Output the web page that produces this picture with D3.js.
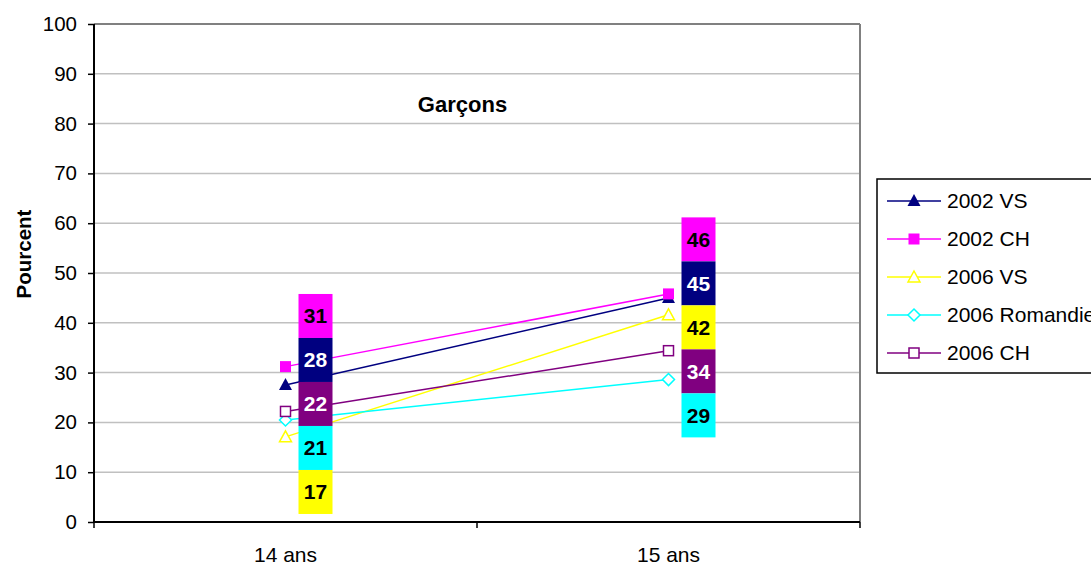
<!DOCTYPE html>
<html><head><meta charset="utf-8">
<script src="https://cdn.jsdelivr.net/npm/d3@7/dist/d3.min.js"></script>
<style>html,body{margin:0;padding:0;background:#fff;overflow:hidden}text{font-family:"Liberation Sans",Arial,sans-serif}</style>
</head><body><svg id="c" width="1091" height="565"></svg>
<script>
const categories = ["14 ans", "15 ans"];
const seriesNames = ["2002 VS", "2002 CH", "2006 VS", "2006 Romandie", "2006 CH"];
const v2002VS = [27.5, 45];
const v2002CH = [31.2, 45.8];
const v2006VS = [17.1, 41.6];
const v2006Rom = [20.5, 28.6];
const v2006CH = [22.2, 34.4];
const yTicks = [0, 10, 20, 30, 40, 50, 60, 70, 80, 90, 100];
const title = "Garçons";
const yTitle = "Pourcent";

const colors = ["#000080", "#FF00FF", "#FFFF00", "#00FFFF", "#800080"];
const markers = ["triFill", "sqFill", "triOpen", "diaOpen", "sqOpen"];
const labelText = ["#fff", "#000", "#000", "#000", "#fff"];
const values = [v2002VS, v2002CH, v2006VS, v2006Rom, v2006CH];

const svg = d3.select("#c");
const L = 94, R = 860, T = 24, B = 522;
const x = d3.scaleBand().domain(categories).range([L, R]);
const y = d3.scaleLinear().domain([0, 100]).range([B, T]);

// gridlines
svg.append("g").selectAll("line").data(yTicks.filter(t => t > 0)).join("line")
  .attr("x1", L).attr("x2", R).attr("y1", d => y(d)).attr("y2", d => y(d))
  .attr("stroke", d => d === 100 ? "#808080" : "#c0c0c0").attr("stroke-width", d => d === 100 ? 2 : 1.5);
svg.append("line").attr("x1", R).attr("x2", R).attr("y1", T).attr("y2", B).attr("stroke", "#808080").attr("stroke-width", 2);

// y axis
const ya = svg.append("g").attr("transform", `translate(${L},0)`)
  .call(d3.axisLeft(y).tickValues(yTicks).tickSize(6).tickPadding(11).tickFormat(d3.format("d")));
ya.select(".domain").attr("stroke", "#000").attr("stroke-width", 2).attr("d", `M0,${B}V${T}`);
ya.selectAll(".tick line").attr("stroke", "#000").attr("stroke-width", 1.5);
ya.selectAll(".tick text").attr("font-size", 20.5).attr("fill", "#000").attr("font-family", "Liberation Sans, Arial, sans-serif");

// x axis
const xa = svg.append("g").attr("transform", `translate(0,${B})`);
xa.append("line").attr("x1", L).attr("x2", R).attr("stroke", "#000").attr("stroke-width", 2);
const edges = [L, ...categories.map(c => x(c) + x.bandwidth())];
xa.selectAll("line.t").data(edges).join("line").attr("class", "t")
  .attr("x1", d => d).attr("x2", d => d).attr("y1", 0).attr("y2", 6).attr("stroke", "#000").attr("stroke-width", 1.5);
xa.selectAll("text").data(categories).join("text")
  .attr("x", d => x(d) + x.bandwidth() / 2).attr("y", 40).attr("text-anchor", "middle")
  .attr("font-size", 21).text(d => d);

// titles
svg.append("text").attr("x", 462.5).attr("y", 112).attr("text-anchor", "middle")
  .attr("font-size", 22).attr("font-weight", "bold").text(title);
svg.append("text").attr("transform", `translate(31,254) rotate(-90)`).attr("text-anchor", "middle")
  .attr("font-size", 20.5).attr("font-weight", "bold").text(yTitle);

function drawMarker(g, type, color, cx, cy) {
  if (type === "triFill") g.append("path").attr("d", `M${cx},${cy - 7}L${cx + 6.5},${cy + 5}L${cx - 6.5},${cy + 5}Z`).attr("fill", color);
  else if (type === "sqFill") g.append("rect").attr("x", cx - 5.5).attr("y", cy - 5.5).attr("width", 11).attr("height", 11).attr("fill", color);
  else if (type === "triOpen") g.append("path").attr("d", `M${cx},${cy - 6}L${cx + 6},${cy + 5}L${cx - 6},${cy + 5}Z`).attr("fill", "#fff").attr("stroke", color).attr("stroke-width", 1.5);
  else if (type === "diaOpen") g.append("path").attr("d", `M${cx},${cy - 6}L${cx + 6},${cy}L${cx},${cy + 6}L${cx - 6},${cy}Z`).attr("fill", "#fff").attr("stroke", color).attr("stroke-width", 1.5);
  else if (type === "sqOpen") g.append("rect").attr("x", cx - 5).attr("y", cy - 5).attr("width", 10).attr("height", 10).attr("fill", "#fff").attr("stroke", color).attr("stroke-width", 1.5);
}

const cx = c => x(c) + x.bandwidth() / 2;
const line = d3.line().x((d, i) => cx(categories[i])).y(d => y(d));
const lg = svg.append("g");
values.forEach((vals, s) => {
  lg.append("path").attr("d", line(vals)).attr("fill", "none").attr("stroke", colors[s]).attr("stroke-width", 1.5);
});
values.forEach((vals, s) => {
  vals.forEach((v, i) => drawMarker(lg, markers[s], colors[s], cx(categories[i]), y(v)));
});

// data labels: stacked column to the right of each category, sorted by value, centred on the mean
const boxH = 44, boxW = 34, offX = 30;
categories.forEach((c, i) => {
  const items = values.map((vals, s) => ({ s, v: vals[i] })).sort((a, b) => b.v - a.v);
  const top = y(d3.mean(items, d => d.v)) - boxH * items.length / 2;
  items.forEach((it, k) => {
    const bx = cx(c) + offX - boxW / 2, by = top + k * boxH;
    svg.append("rect").attr("x", bx).attr("y", by).attr("width", boxW).attr("height", boxH).attr("fill", colors[it.s]);
    svg.append("text").attr("x", bx + boxW / 2).attr("y", by + boxH / 2 + 7.5).attr("text-anchor", "middle")
      .attr("font-size", 21).attr("font-weight", "bold").attr("fill", labelText[it.s]).text(Math.round(it.v));
  });
});

// legend
const leg = svg.append("g").attr("transform", "translate(877,179)");
leg.append("rect").attr("width", 260).attr("height", 194).attr("fill", "#fff").attr("stroke", "#000").attr("stroke-width", 1.5);
seriesNames.forEach((n, s) => {
  const yy = 22 + s * 38;
  leg.append("line").attr("x1", 10).attr("x2", 64).attr("y1", yy).attr("y2", yy).attr("stroke", colors[s]).attr("stroke-width", 1.5);
  drawMarker(leg, markers[s], colors[s], 37, yy);
  leg.append("text").attr("x", 70).attr("y", yy + 7).attr("font-size", 21).text(n);
});
</script></body></html>
